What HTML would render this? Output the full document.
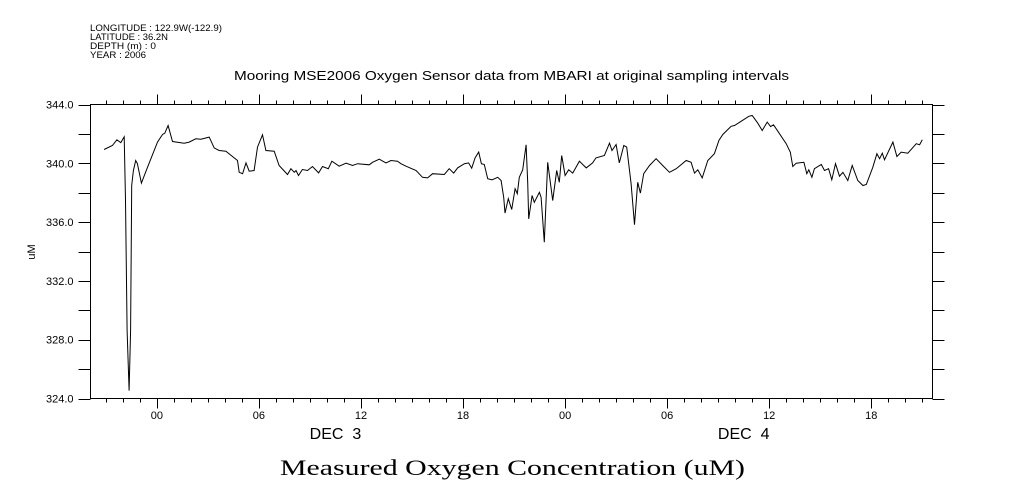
<!DOCTYPE html>
<html><head><meta charset="utf-8"><style>
body{margin:0;background:#fff;width:1009px;height:504px;overflow:hidden}
svg{display:block}
text{font-family:"Liberation Sans",sans-serif;fill:#000}
</style></head><body>
<svg id="chart" width="1009" height="504" viewBox="0 0 1009 504">
<g font-size="9">
<text x="90" y="31" textLength="132" lengthAdjust="spacingAndGlyphs">LONGITUDE : 122.9W(-122.9)</text>
<text x="90" y="40" textLength="78" lengthAdjust="spacingAndGlyphs">LATITUDE : 36.2N</text>
<text x="90" y="49" textLength="66" lengthAdjust="spacingAndGlyphs">DEPTH (m) : 0</text>
<text x="90" y="58" textLength="56" lengthAdjust="spacingAndGlyphs">YEAR : 2006</text>
</g>
<text x="234" y="80" textLength="555" lengthAdjust="spacingAndGlyphs" font-size="13">Mooring MSE2006 Oxygen Sensor data from MBARI at original sampling intervals</text>
<text transform="translate(35,252) rotate(-90)" text-anchor="middle" font-size="11">uM</text>
<text x="280" y="475" textLength="465" lengthAdjust="spacingAndGlyphs" font-size="22" style="font-family:'Liberation Serif',serif">Measured Oxygen Concentration (uM)</text>
<rect x="90.5" y="104.5" width="842" height="294" fill="none" stroke="#000" stroke-width="1"/>
<g id="axes"></g>
<path id="series" fill="none" stroke="#000" stroke-width="1"/>
</svg>
<script>
const hours=[-3.10,-2.61,-2.35,-2.12,-1.92,-1.84,-1.75,-1.63,-1.54,-1.48,-1.38,-1.24,-1.14,-0.91,-0.55,0.04,0.33,0.47,0.66,0.92,1.61,1.90,2.29,2.59,3.08,3.37,3.66,4.06,4.55,4.74,4.84,5.04,5.24,5.43,5.72,5.92,6.21,6.41,6.90,7.19,7.68,7.88,8.08,8.18,8.33,8.56,8.86,9.15,9.51,9.74,10.08,10.29,10.72,11.12,11.51,11.80,12.49,12.68,13.08,13.47,13.76,14.15,14.35,14.65,15.24,15.62,15.92,16.21,16.90,17.19,17.45,17.68,18.08,18.33,18.51,18.71,18.92,19.08,19.25,19.45,19.71,20.04,20.24,20.39,20.47,20.66,20.86,21.06,21.19,21.31,21.51,21.61,21.71,21.80,21.86,22.06,22.19,22.49,22.59,22.78,22.98,23.27,23.51,23.66,23.80,24.00,24.21,24.45,24.84,25.24,25.62,25.82,26.31,26.61,26.76,27.00,27.19,27.45,27.62,27.88,28.08,28.27,28.43,28.62,28.96,29.35,29.74,30.14,30.53,31.12,31.41,31.61,31.80,32.06,32.39,32.78,33.04,33.27,33.76,33.96,34.35,34.80,35.00,35.33,35.59,35.88,36.08,36.25,36.51,37.00,37.24,37.39,37.59,38.04,38.21,38.33,38.51,38.66,39.06,39.25,39.49,39.68,39.90,40.13,40.33,40.62,40.88,41.21,41.51,41.71,42.09,42.33,42.49,42.65,42.78,43.27,43.51,43.76,44.15,44.65,44.84,45.00];
const oxygen=[340.94,341.21,341.60,341.41,341.80,337.47,328.63,324.54,328.63,338.49,339.51,340.19,339.97,338.65,339.73,341.44,341.96,342.05,342.57,341.48,341.37,341.44,341.67,341.64,341.78,341.05,340.87,340.82,340.37,340.19,339.39,339.29,340.03,339.46,339.51,341.10,341.94,340.87,340.82,339.85,339.24,339.63,339.39,339.51,339.17,339.58,339.51,339.78,339.35,339.78,339.63,340.14,339.80,340.01,339.85,339.97,339.90,340.07,340.28,340.03,340.19,340.14,339.97,339.80,339.51,339.05,339.01,339.29,339.24,339.63,339.33,339.69,339.97,340.03,339.67,340.37,340.76,339.97,339.92,338.95,338.88,339.05,338.83,337.69,336.61,337.59,336.86,338.27,337.93,339.05,339.56,340.41,341.26,338.71,336.22,337.81,337.35,338.03,337.69,334.63,340.07,337.47,339.51,338.71,340.53,339.17,339.56,339.33,340.14,339.69,340.03,340.37,340.53,341.37,340.87,341.28,340.03,341.21,341.10,338.61,335.82,338.71,337.97,339.29,339.85,340.31,339.85,339.39,339.63,340.19,340.07,339.33,339.56,339.01,340.19,340.65,341.55,341.96,342.52,342.57,342.86,343.20,343.25,342.73,342.23,342.80,342.50,342.62,342.18,341.33,340.76,339.78,340.01,340.07,339.29,339.56,339.05,339.63,339.92,339.51,339.63,338.88,339.97,339.12,339.39,338.83,339.85,338.83,338.49,338.56,339.73,340.65,340.31,340.69,340.24,341.44,340.46,340.76,340.69,341.33,341.26,341.60];
const yTicks=[324,328,332,336,340,344];
const yTickLabels=["324.0","328.0","332.0","336.0","340.0","344.0"];
const xMajorHours=[0,6,12,18,24,30,36,42];
const xMajorLabels=["00","06","12","18","00","06","12","18"];
const dayHours=[10.5,34.5];
const dayLabels=["DEC  3","DEC  4"];

const X0=90.5,X1=932.5,Y0=104.5,Y1=398.5;
const H0=-3.9,H1=45.6;
function xs(h){return X0+(h-H0)/(H1-H0)*(X1-X0);}
function ys(v){return Y1-(v-324)/(344-324)*(Y1-Y0);}
const NS='http://www.w3.org/2000/svg';
const axes=document.getElementById('axes');
function mk(tag,attrs){const e=document.createElementNS(NS,tag);for(const k in attrs)e.setAttribute(k,attrs[k]);axes.appendChild(e);return e;}
for(let v=324;v<=344;v+=2){
  const y=Math.round(ys(v))+0.5;
  let t=mk('line',{x1:X0-12,x2:X0,y1:y,y2:y,stroke:'#000'});
  
  
  t=mk('line',{x1:X1,x2:X1+12,y1:y,y2:y,stroke:'#000'});
  
  
}
yTicks.forEach((v,i)=>{
  const t=mk('text',{x:X0-17,y:ys(v)+4,'text-anchor':'end','font-size':'11'});
  t.textContent=yTickLabels[i];
  
  
});
for(let h=-3;h<=45;h++){
  const x=Math.round(xs(h))+0.5;
  const major=(h%6===0);
  const len=major?10:4;
  let t=mk('line',{x1:x,x2:x,y1:Y0-len,y2:Y0,stroke:'#000'});
  
  
  t=mk('line',{x1:x,x2:x,y1:Y1,y2:Y1+len,stroke:'#000'});
  
  
}
xMajorHours.forEach((h,i)=>{
  const t=mk('text',{x:xs(h),y:419,'text-anchor':'middle','font-size':'11'});
  t.textContent=xMajorLabels[i];
  
  
});
dayHours.forEach((h,i)=>{
  const t=mk('text',{x:xs(h),y:439,'text-anchor':'middle','font-size':'16'});
  t.setAttribute('xml:space','preserve');
  t.style.whiteSpace='pre';
  t.textContent=dayLabels[i];
  
  
});
let d='';
hours.forEach((h,i)=>{d+=(i?'L':'M')+xs(h).toFixed(1)+' '+ys(oxygen[i]).toFixed(1);});
document.getElementById('series').setAttribute('d',d);
</script>
</body></html>
